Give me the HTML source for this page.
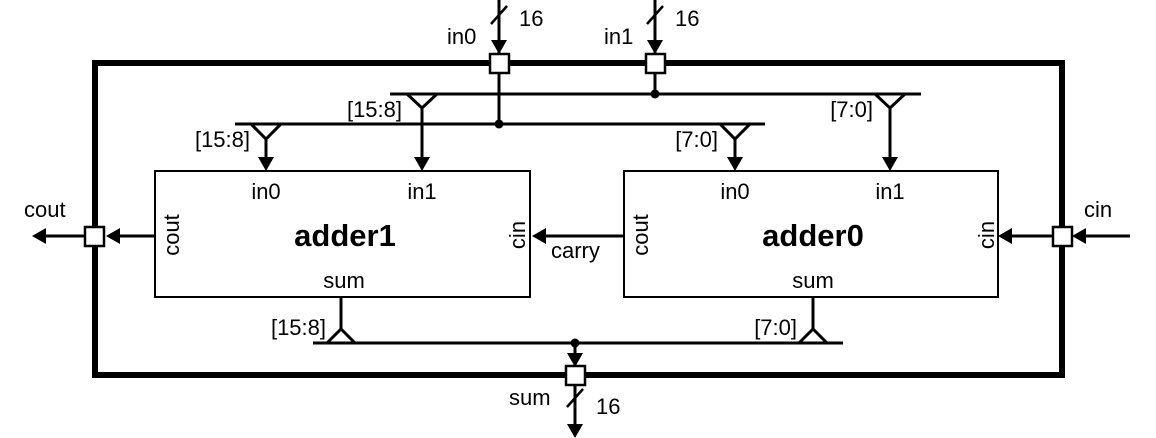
<!DOCTYPE html>
<html><head><meta charset="utf-8"><style>
html,body{margin:0;padding:0;background:#fff;}
svg{display:block;}
text{font-family:"Liberation Sans",Arial,sans-serif;fill:#000;}
</style></head><body>
<svg width="1156" height="438" viewBox="0 0 1156 438" xmlns="http://www.w3.org/2000/svg">
<g stroke="#000" fill="none">
<rect x="95" y="63" width="967" height="312" stroke-width="6"/>
<rect x="155" y="171" width="375" height="126" stroke-width="2"/>
<rect x="624" y="171" width="374" height="126" stroke-width="2"/>
<line x1="390" y1="94" x2="921" y2="94" stroke-width="3"/>
<line x1="235" y1="124" x2="765" y2="124" stroke-width="3"/>
<line x1="313" y1="343" x2="843" y2="343" stroke-width="3"/>
<line x1="499" y1="0" x2="499" y2="124" stroke-width="3"/>
<line x1="655" y1="0" x2="655" y2="94" stroke-width="3"/>
<line x1="491" y1="24" x2="507" y2="6" stroke-width="2.5"/>
<line x1="647" y1="24" x2="663" y2="6" stroke-width="2.5"/>
<line x1="567" y1="407" x2="583" y2="389" stroke-width="2.5"/>
<g stroke-width="3">
<path d="M407,94 L422,108 L437,94"/><line x1="422" y1="108" x2="422" y2="160"/>
<path d="M251,124 L266,139 L281,124"/><line x1="266" y1="139" x2="266" y2="160"/>
<path d="M720,124 L735,139 L750,124"/><line x1="735" y1="139" x2="735" y2="160"/>
<path d="M875,94 L890,108 L905,94"/><line x1="890" y1="108" x2="890" y2="160"/>
<line x1="341" y1="297" x2="341" y2="329"/><path d="M327,343 L341,329 L355,343"/>
<line x1="813" y1="297" x2="813" y2="329"/><path d="M799,343 L813,329 L827,343"/>
<line x1="575" y1="343" x2="575" y2="365"/>
<line x1="575" y1="382" x2="575" y2="425"/>
<line x1="118" y1="236" x2="155" y2="236"/>
<line x1="42" y1="236" x2="88" y2="236"/>
<line x1="1010" y1="236" x2="1056" y2="236"/>
<line x1="1080" y1="236" x2="1130" y2="236"/>
<line x1="544" y1="236" x2="624" y2="236"/>
</g>
</g>
<g fill="#000">
<circle cx="655" cy="94" r="4.5"/><circle cx="499" cy="124" r="4.5"/><circle cx="575" cy="343" r="4.5"/>
<path d="M491,40 L507,40 L499,54 Z"/>
<path d="M647,40 L663,40 L655,54 Z"/>
<path d="M258,157 L274,157 L266,171 Z"/>
<path d="M414,157 L430,157 L422,171 Z"/>
<path d="M727,157 L743,157 L735,171 Z"/>
<path d="M882,157 L898,157 L890,171 Z"/>
<path d="M567,353 L583,353 L575,367 Z"/>
<path d="M567,424 L583,424 L575,438 Z"/>
<path d="M120,228 L120,244 L106,236 Z"/>
<path d="M46,228 L46,244 L32,236 Z"/>
<path d="M1012,228 L1012,244 L998,236 Z"/>
<path d="M1086,228 L1086,244 L1072,236 Z"/>
<path d="M546,228 L546,244 L532,236 Z"/>
</g>
<g fill="#fff" stroke="#000" stroke-width="2.5">
<rect x="490" y="54" width="19" height="19"/>
<rect x="646" y="54" width="19" height="19"/>
<rect x="85" y="227" width="19" height="19"/>
<rect x="1053" y="227" width="19" height="19"/>
<rect x="566" y="366" width="19" height="19"/>
</g>
<g font-size="22">
<text x="519" y="26">16</text>
<text x="675" y="26">16</text>
<text x="596" y="414">16</text>
<text x="447" y="44">in0</text>
<text x="604" y="44">in1</text>
<text x="509" y="405">sum</text>
<text x="402" y="117" text-anchor="end">[15:8]</text>
<text x="250" y="147" text-anchor="end">[15:8]</text>
<text x="718" y="147" text-anchor="end">[7:0]</text>
<text x="873" y="117" text-anchor="end">[7:0]</text>
<text x="326" y="335" text-anchor="end">[15:8]</text>
<text x="797" y="335" text-anchor="end">[7:0]</text>
<text x="266" y="199" text-anchor="middle">in0</text>
<text x="422" y="199" text-anchor="middle">in1</text>
<text x="735" y="199" text-anchor="middle">in0</text>
<text x="890" y="199" text-anchor="middle">in1</text>
<text x="344" y="288" text-anchor="middle">sum</text>
<text x="813" y="288" text-anchor="middle">sum</text>
<text x="24" y="217">cout</text>
<text x="1084" y="217">cin</text>
<text x="551" y="258">carry</text>
<text transform="translate(179,235) rotate(-90)" text-anchor="middle">cout</text>
<text transform="translate(648,235) rotate(-90)" text-anchor="middle">cout</text>
<text transform="translate(525,235) rotate(-90)" text-anchor="middle">cin</text>
<text transform="translate(994,235) rotate(-90)" text-anchor="middle">cin</text>
</g>
<g font-size="31" font-weight="bold">
<text x="345" y="246" text-anchor="middle">adder1</text>
<text x="813" y="246" text-anchor="middle">adder0</text>
</g>
</svg>
</body></html>
